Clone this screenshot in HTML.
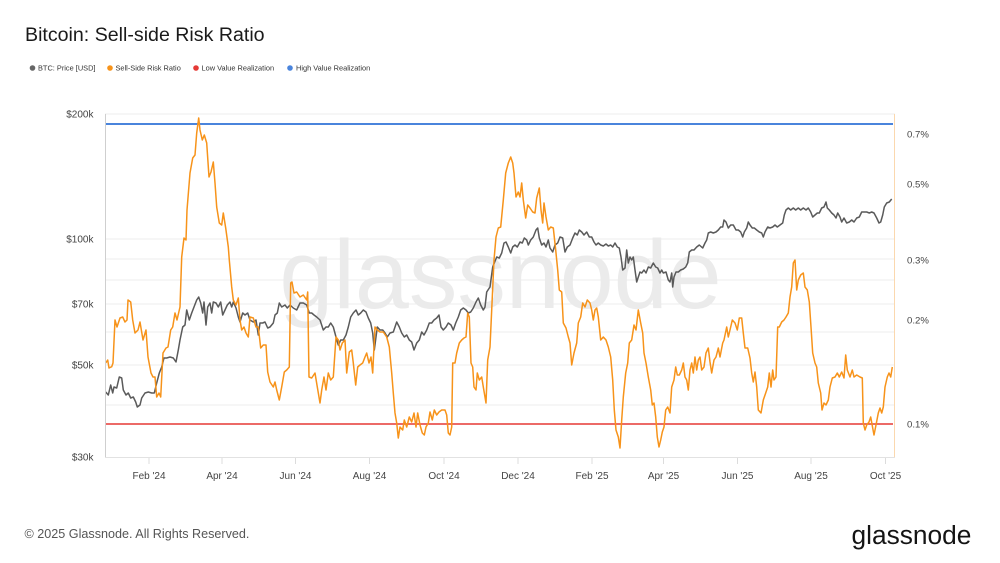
<!DOCTYPE html>
<html>
<head>
<meta charset="utf-8">
<style>
html,body{margin:0;padding:0;background:#fff;}
svg{display:block;font-family:"Liberation Sans",Arial,sans-serif;}
</style>
</head>
<body>
<svg width="1000" height="563" viewBox="0 0 1000 563" xmlns="http://www.w3.org/2000/svg">
<rect width="1000" height="563" fill="#fff"/>
<text x="25" y="41" font-size="19.6" fill="#1a1a1a">Bitcoin: Sell-side Risk Ratio</text>

<g font-size="7.4" fill="#333">
<circle cx="32.5" cy="68" r="2.8" fill="#666"/><text x="38" y="70.7">BTC: Price [USD]</text>
<circle cx="110" cy="68" r="2.8" fill="#f7931a"/><text x="115.5" y="70.7">Sell-Side Risk Ratio</text>
<circle cx="196" cy="68" r="2.8" fill="#e53935"/><text x="201.5" y="70.7">Low Value Realization</text>
<circle cx="290" cy="68" r="2.8" fill="#4a84dc"/><text x="296" y="70.7">High Value Realization</text>
</g>

<g stroke="#ececec" stroke-width="1">
<line x1="105" y1="114" x2="895" y2="114"/>
<line x1="105" y1="239" x2="895" y2="239"/>
<line x1="105" y1="259" x2="895" y2="259"/>
<line x1="105" y1="280" x2="895" y2="280"/>
<line x1="105" y1="304" x2="895" y2="304"/>
<line x1="105" y1="332" x2="895" y2="332"/>
<line x1="105" y1="365" x2="895" y2="365"/>
<line x1="105" y1="405" x2="895" y2="405"/>
</g>

<text x="500.5" y="308" font-size="97" fill="#ebebeb" text-anchor="middle">glassnode</text>

<g font-size="10" fill="#444" text-anchor="end">
<text x="93.5" y="117.5">$200k</text>
<text x="93.5" y="242.5">$100k</text>
<text x="93.5" y="307.5">$70k</text>
<text x="93.5" y="368.5">$50k</text>
<text x="93.5" y="460.5">$30k</text>
</g>
<g font-size="9.6" fill="#444">
<text x="907" y="137.5">0.7%</text>
<text x="907" y="187.5">0.5%</text>
<text x="907" y="263.5">0.3%</text>
<text x="907" y="323.5">0.2%</text>
<text x="907" y="427.5">0.1%</text>
</g>

<line x1="105" y1="124" x2="893" y2="124" stroke="#4a84dc" stroke-width="2"/>
<line x1="105" y1="424" x2="893" y2="424" stroke="#e53935" stroke-width="1.5"/>

<polyline fill="none" stroke="#5a5a5a" stroke-width="1.5" stroke-linejoin="round" points="105.7,392 108.3,395 110.7,385 112.7,393 114,387 116.7,388 119.3,377 121.7,378 123.3,390 126,395 128.3,393 130.7,398 133.3,397 135.7,402 137.3,407 140,405 141.7,398 145,393 148.3,392 151.7,393 154.3,393 156.7,383 159.3,373 161.7,367 164,358 166.7,358 170,357 173.3,358 176,362 178.3,350 180,340 182.7,327 185,325 186.7,310 189.3,320 191.7,313 194,307 196.7,300 198.7,297 200.7,303 202.7,313 204,302 206,325 207.7,307 210,303 211.7,313 213.3,302 216,303 218.3,307 220.7,302 222.7,315 225,310 227.3,305 230,302 231.7,307 233.3,302 236,308 238.3,317 240,322 242.7,313 245,315 247.7,313 250,320 253.3,322 256,320 258.3,335 260,323 262.7,323 265,322 267.7,328 270,327 273.3,323 275,315 277.3,313 279.3,303 281.7,307 285,305 287.3,308 290,305 293.3,308 296.7,310 300,303 303.3,303 306.7,305 309.3,313 311.7,313 314,315 316.7,317 320,320 323.3,330 326,327 328.3,327 330.7,323 333.3,327 336,337 338.3,345 340.7,340 343.3,340 346,335 348.3,327 350.7,317 353.3,313 356,310 358.3,315 360.7,313 363.3,310 366,312 368.3,318 370.7,323 372.7,333 374.3,350 376,337 377.3,327 380,330 382.7,330 385,333 387.3,337 390,333 393.3,332 396.7,322 399.3,327 401.7,333 404.3,337 406.7,335 409.3,340 411.7,342 414,350 416.7,343 419.3,340 421.7,332 424,335 426.7,330 429.3,323 431.7,323 434,320 436.7,318 439,315 441,327 443.3,330 446,327 448.3,323 451,325 453.3,330 455.7,323 458.3,317 460.7,310 463.3,308 466,310 468.3,313 470.7,312 473.3,308 476,302 478.3,298 480.7,305 483.3,310 485,307 486.7,292 489.3,288 490,287 492.7,267 494.7,262 496.7,257 499.3,258 501.7,253 504,243 506,242 508.3,247 510.7,253 512.7,247 515,245 517.3,247 520,242 522.3,243 524.3,238 526.7,240 528.3,245 530.7,240 533.3,237 536,230 537.7,228 539.3,238 541.7,245 544,243 546,247 548.3,240 550,248 552.7,252 555,245 557.7,243 560,237 562.7,238 565,252 567.3,247 570,245 572.7,238 575,233 577.3,235 579.3,230 581.7,232 584,235 586.7,232 589.3,237 591.7,237 594,242 596,245 598.3,243 600.7,245 603.3,246 606,244 608.3,246 610.7,245 612.7,247 615,243 617.3,247 619.3,248 621,257 622.7,270 625,268 626.7,250 628.3,263 630,257 631.7,260 633.3,257 635,270 636.7,282 638.3,277 640,272 641.7,273 644,270 646,273 648.3,267 650.7,268 653.3,263 655.7,267 657.7,268 660,273 661.7,270 663.3,273 666,272 668.3,280 670,282 671.7,273 672.7,287 674,277 676,272 678.3,272 680.7,270 683.3,269 685.7,267 687.7,263 689.3,252 691.7,250 694,250 696.7,247 699.3,245 702.7,248 705,243 706.7,240 708.3,233 710.7,232 713.3,233 716,232 718.3,230 720.7,227 722.7,227 724,220 726,222 728.3,228 730.7,225 733.3,225 736,230 738.3,230 740.7,232 742.7,237 744.3,232 746.7,228 748.3,222 750,225 752.3,228 754.3,228 756.7,230 759.3,232 761.7,233 763.3,237 765,232 767.7,227 770,228 772.7,227 775,225 777.3,227 780,225 782.7,223 784.3,215 786,210 788.3,208 790.7,210 793.3,208 795.7,210 798.3,208 800.7,210 803.3,208 806,210 808.3,208 810.7,212 812.7,217 815,215 817.3,213 819.3,213 821.7,208 824,207 826,202 827.3,208 829.3,210 831.7,213 834,215 836,218 837.7,213 840,217 841.7,222 844,218 846.7,223 849.3,222 851.7,220 854,222 856.7,218 859.3,217 861.7,212 864,212 866.7,212 869.3,213 871.7,212 874,213 876.7,218 879,223 880.7,222 882.7,215 884.3,207 886.7,203 889.3,202 891.7,199"/>

<polyline fill="none" stroke="#f7931a" stroke-width="1.5" stroke-linejoin="round" points="105.7,363 107.7,360 109,368 111.7,366.7 113,363 115,320 117,327 120,318 122.7,317 125,322 127,320 128,300 130.7,302 132.7,320 135,333 138,330 140,322 143,340 146,330 148,357 151,373 153,377 155,377 156.7,397 159,393 160.7,397 163,353 166,348 168,347 170.7,330 172.7,327 175,313 177,320 180,307 181.7,257 184,238 186,240 187,210 190,173 192.7,158 195,155 196.7,133 198.7,118 200,130 202.3,140 204.3,135 206.7,143 209,177 211,172 213.3,162 215,183 216.7,207 219.3,223 221.7,225 223.3,213 225.7,228 228.3,247 229.3,260 231.7,287 233.3,300 236,305 238.3,298 240,320 241.7,330 244,327 246,333 248.3,337 250,317 253.3,318 256,327 258.3,327 260.7,348 263.3,345 266,345 267.7,372 270,382 273.3,387 275,382 276.7,390 279.3,400 281.7,387 284.3,372 286.7,370 289.3,367 290.7,283 292,282 294,293 296.7,292 300,297 303.3,295 306.7,300 307.7,292 309,377 311.7,378 315,373 317.3,387 320,403 321.7,390 324,377 326,390 328.3,373 330.7,380 333.3,377 336,337 338.3,340 340,350 342.3,343 345,340 346.7,373 349.3,352 351.7,350 353.3,363 355.7,385 357.7,367 360,365 362.7,363 365,357 366.7,353 369,363 371,357 372.7,373 375,327 377.3,330 380,332 383.3,332 386.7,337 389.3,347 391.7,373 393.3,393 395,413 396.7,423 398.3,438 400,427 402.7,430 404.3,420 406.7,427 409.3,417 411.7,422 414,413 416,427 417.7,413 420,425 422.3,433 424.3,435 426,427 428.3,423 430,412 432.3,420 434.3,410 436.7,415 439,412 441.7,410 445,410 446.7,415 448.3,433 450,435 451.7,427 452.7,363 455,363 456.7,353 459.3,343 461.7,340 464,338 466,337 467.7,313 469.3,317 471,363 472.7,367 474,387 476,390 477.3,373 479.3,380 481.7,377 483.3,387 486,403 487.7,360 490,347 491.7,310 494,260 496,237 498.3,228 500.7,227 503.3,200 505.7,173 508.3,163 510.7,157 512.7,163 514,173 516,197 518.3,192 520,197 521.7,183 523.3,200 525.7,218 527.7,205 530,208 532.7,212 535,213 536.7,198 539.3,188 541,210 542.7,223 544,203 546,217 548.3,230 550.7,227 553.3,228 555.7,250 557.7,270 559.3,290 561.7,292 563.3,323 566,328 568.3,337 570,343 571.7,365 574,353 576.7,343 578.3,323 580.7,317 582.7,303 585,307 587.3,300 590,303 591.7,310 593.3,320 595,310 596.7,308 598.3,317 600.7,340 603.3,337 606,340 608.3,347 610.7,357 612.7,380 614.3,410 616,430 618.3,437 620,448 621.7,420 623.3,397 625.7,373 627.7,363 629.3,343 631.7,340 634,325 636,330 638.3,310 640.7,323 642.7,333 644,353 646,363 648.3,377 650.7,390 652.3,405 654,403 655.7,417 657.3,437 659,447 660.7,440 662.3,432 664,427 665.7,410 667.7,407 670,413 671.7,387 674,380 675.7,367 677.3,375 679.3,375 681.7,370 683.3,363 685,377 686.7,380 688.3,390 690,370 691.7,363 693.3,373 695,357 696.7,370 698.3,360 700,357 701.7,370 704,367 706,353 708.3,348 710,362 711.7,373 714,360 716,357 718.3,348 720,357 722.7,343 724,340 726.7,327 728.3,337 730.7,327 732.3,320 735,323 737.3,330 739.3,318 741.7,318 743.3,333 745,348 747.7,348 750,358 751.7,373 753.3,382 755,372 756.7,387 758.3,410 761,413 763.3,400 765.7,393 767.7,387 769.3,373 771,387 772.7,370 774,380 776,377 777.7,327 779.3,327 781.7,322 784,320 786,317 788.3,313 790,297 791.7,287 793.3,263 795,260 796.7,290 798.3,280 800.7,275 803.3,273 805,287 807.3,290 809.3,302 811,327 812.7,353 815,363 816.7,367 818.3,383 820.7,393 822,410 824,403 826,405 828.3,400 830,387 832.3,378 835,377 837.3,373 839.3,377 841.7,372 844,378 845.7,355 847.3,370 850,377 852.3,370 854,377 856.7,375 860,377 862.3,378 863.3,423 865,430 866.7,425 869,422 870.7,417 872.7,428 874,435 876,425 878.3,413 880,408 881.7,413 883.3,407 885,387 887.3,377 889,373 890.7,377 892.3,367"/>

<line x1="105.5" y1="114" x2="105.5" y2="457" stroke="#cfcfcf" stroke-width="1"/>
<line x1="894.5" y1="114" x2="894.5" y2="457" stroke="#fbd8ae" stroke-width="1"/>
<line x1="105" y1="457.5" x2="895" y2="457.5" stroke="#e2e2e2" stroke-width="1"/>

<g stroke="#dcdcdc" stroke-width="1">
<line x1="149" y1="458" x2="149" y2="464"/>
<line x1="222" y1="458" x2="222" y2="464"/>
<line x1="295.5" y1="458" x2="295.5" y2="464"/>
<line x1="369.5" y1="458" x2="369.5" y2="464"/>
<line x1="444" y1="458" x2="444" y2="464"/>
<line x1="518" y1="458" x2="518" y2="464"/>
<line x1="592" y1="458" x2="592" y2="464"/>
<line x1="663.5" y1="458" x2="663.5" y2="464"/>
<line x1="737.5" y1="458" x2="737.5" y2="464"/>
<line x1="811" y1="458" x2="811" y2="464"/>
<line x1="885.5" y1="458" x2="885.5" y2="464"/>
</g>
<g font-size="10" fill="#444" text-anchor="middle">
<text x="149" y="479">Feb '24</text>
<text x="222" y="479">Apr '24</text>
<text x="295.5" y="479">Jun '24</text>
<text x="369.5" y="479">Aug '24</text>
<text x="444" y="479">Oct '24</text>
<text x="518" y="479">Dec '24</text>
<text x="592" y="479">Feb '25</text>
<text x="663.5" y="479">Apr '25</text>
<text x="737.5" y="479">Jun '25</text>
<text x="811" y="479">Aug '25</text>
<text x="885.5" y="479">Oct '25</text>
</g>

<text x="24.5" y="538" font-size="12.6" fill="#555">© 2025 Glassnode. All Rights Reserved.</text>
<text x="851.5" y="544" font-size="26.3" fill="#141414">glassnode</text>
</svg>
</body>
</html>
